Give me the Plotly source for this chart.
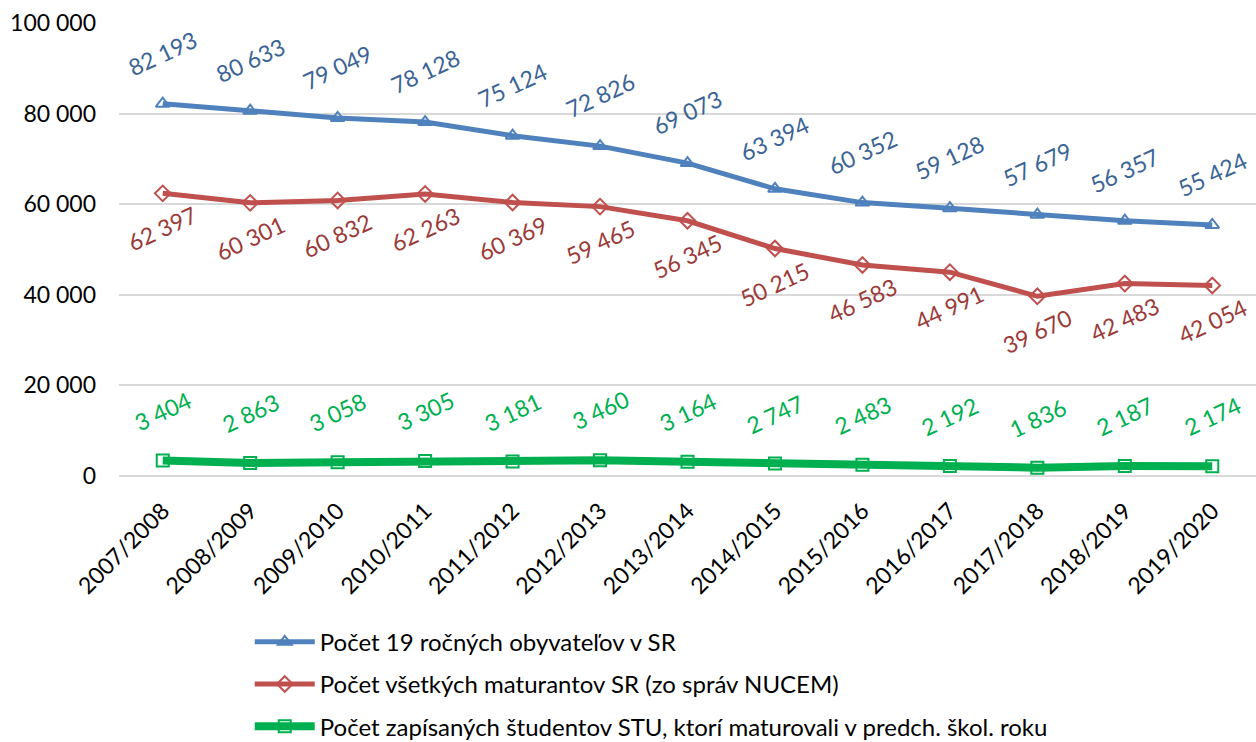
import plotly.graph_objects as go

years = ["2007/2008", "2008/2009", "2009/2010", "2010/2011", "2011/2012", "2012/2013",
         "2013/2014", "2014/2015", "2015/2016", "2016/2017", "2017/2018", "2018/2019", "2019/2020"]
pop19 = [82193, 80633, 79049, 78128, 75124, 72826, 69073, 63394, 60352, 59128, 57679, 56357, 55424]
maturanti = [62397, 60301, 60832, 62263, 60369, 59465, 56345, 50215, 46583, 44991, 39670, 42483, 42054]
stu = [3404, 2863, 3058, 3305, 3181, 3460, 3164, 2747, 2483, 2192, 1836, 2187, 2174]

names = ["Počet 19 ročných obyvateľov v SR",
         "Počet všetkých maturantov SR (zo správ NUCEM)",
         "Počet zapísaných študentov STU, ktorí maturovali v predch. škol. roku"]

FONT = "Lato, Calibri, Carlito, sans-serif"

def fmt(v):
    return f"{v:,}".replace(",", " ")

series = [
    (pop19, names[0], "#4F81BD", "triangle-up-open", 5, 12, "#3B6496", 51),
    (maturanti, names[1], "#C0504D", "diamond-open", 5, 12, "#9B3B39", -35),
    (stu, names[2], "#00B050", "square-open", 8, 12, "#00B050", 50),
]

fig = go.Figure()
annotations = []
for i, (vals, name, col, sym, lw, ms, lcol, shift) in enumerate(series):
    fig.add_trace(go.Scatter(
        x=years, y=vals, name=name, mode="lines+markers",
        line=dict(color=col, width=lw),
        marker=dict(symbol=sym, size=ms, color=col, line=dict(color=col, width=2)),
        legendgroup=f"g{i}",
    ))
    for x, v in zip(years, vals):
        annotations.append(dict(
            x=x, y=v, xref="x", yref="y", text=fmt(v), showarrow=False,
            textangle=-25, yshift=shift,
            font=dict(family=FONT, size=23, color=lcol),
        ))

fig.update_layout(
    width=1256, height=742,
    margin=dict(l=119, r=0, t=23, b=266, autoexpand=False),
    paper_bgcolor="white", plot_bgcolor="white",
    separators=", ",
    font=dict(family=FONT, size=23, color="#000000"),
    annotations=annotations,
    showlegend=True,
    legend=dict(x=0.115, y=-0.602, xanchor="left", yanchor="bottom",
                orientation="v", tracegroupgap=8, itemwidth=60,
                borderwidth=0, bgcolor="rgba(0,0,0,0)",
                font=dict(family=FONT, size=24, color="#000000")),
    xaxis=dict(type="category", tickangle=-45, showgrid=False, showline=False,
               automargin=False, ticks="", range=[-0.5, len(years) - 0.5],
               ticklabelstandoff=16,
               tickfont=dict(family=FONT, size=23, color="#000000")),
    yaxis=dict(range=[0, 100000], dtick=20000, tickformat=",.0f",
               automargin=False, ticklabelstandoff=22,
               showgrid=True, gridcolor="#D9D9D9", gridwidth=2,
               zeroline=True, zerolinecolor="#D9D9D9", zerolinewidth=2,
               showline=False, ticks="", ticklen=0,
               tickfont=dict(family=FONT, size=23, color="#000000")),
)

fig.write_html("out.html", config={"displayModeBar": False},
               post_script="document.body.style.margin='0';document.body.style.padding='0';")
